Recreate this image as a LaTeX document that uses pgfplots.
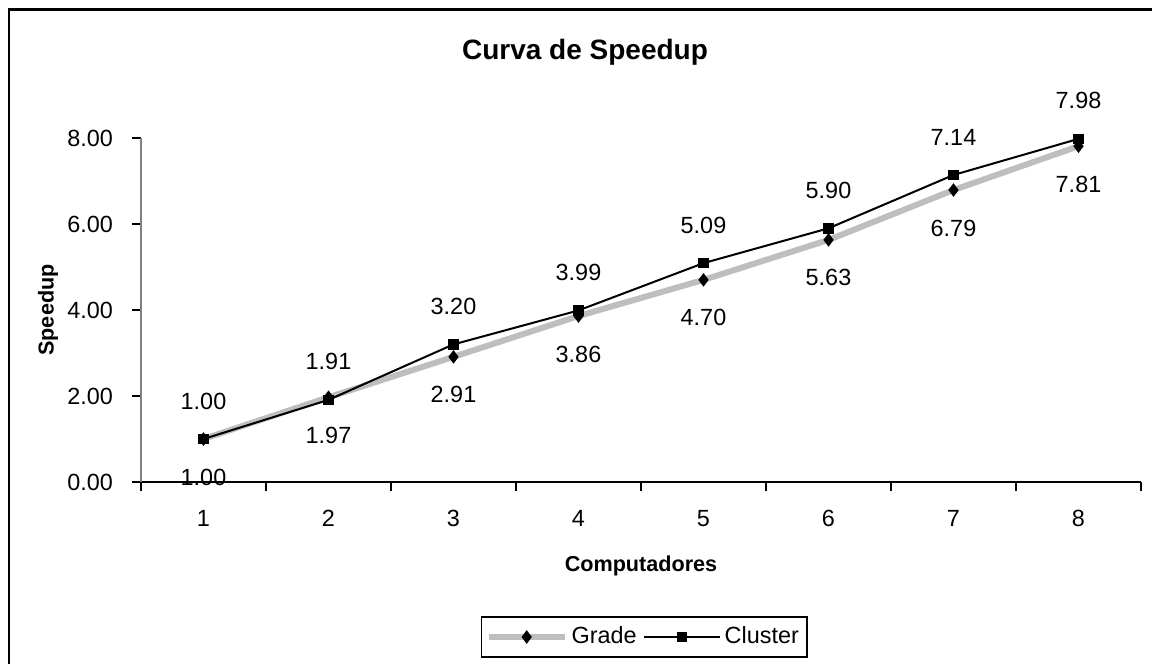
\documentclass[border=0pt]{standalone}
\usepackage{fontspec}
\setmainfont{Liberation Sans}
\usepackage{pgfplots}
\pgfplotsset{compat=1.18}
\definecolor{gradegray}{RGB}{190,190,190}

\begin{document}
\begin{tikzpicture}
\useasboundingbox (-70.5pt,-91pt) rectangle (505.5pt,241pt);
% frame of the chart area (only left and top edges are in view)
\draw[line width=1.25pt] (-66pt,-91pt) -- (-66pt,236.25pt) -- (505.5pt,236.25pt);
\begin{axis}[
  at={(0,0)}, anchor=south west,
  scale only axis,
  width=500pt, height=172pt,
  xmin=0.5, xmax=8.5,
  ymin=0, ymax=8,
  axis lines*=left,
  x axis line style={black, line width=0.6pt},
  y axis line style={gray, line width=0.6pt},
  tick align=outside,
  major tick length=4.5pt,
  tick style={black, line width=0.6pt},
  xtick={0.5,1.5,...,8.5},
  xticklabels={},
  extra x ticks={1,2,...,8},
  extra x tick labels={1,2,3,4,5,6,7,8},
  extra x tick style={major tick length=0pt},
  ytick={0,2,4,6,8},
  /pgf/number format/assume math mode=true,
  yticklabel style={xshift=-6pt, /pgf/number format/fixed, /pgf/number format/fixed zerofill, /pgf/number format/precision=2},
  ticklabel style={font=\fontsize{11.7}{14}\selectfont},
  xticklabel style={yshift=-10.5pt},
  every axis title shift=0pt,
  title={\bfseries Curva de Speedup},
  title style={at={(axis description cs:0.444,1.25)}, anchor=center, font=\fontsize{14}{17}\selectfont},
  xlabel={\bfseries Computadores},
  xlabel style={at={(axis description cs:0.5,-0.244)}, anchor=center, font=\fontsize{10.8}{13}\selectfont},
  ylabel={\bfseries Speedup},
  ylabel style={at={(axis description cs:-0.093,0.5)}, anchor=center, font=\fontsize{10.8}{13}\selectfont},
  nodes near coords,
  nodes near coords style={font=\fontsize{11.7}{14}\selectfont, black,
    /pgf/number format/fixed, /pgf/number format/fixed zerofill, /pgf/number format/precision=2},
  legend columns=2,
  legend style={at={(axis description cs:0.34,-0.4506)}, anchor=west,
    draw=black, line width=0.7pt, font=\fontsize{11.7}{14}\selectfont,
    inner xsep=2pt, inner ysep=3pt,
    /tikz/every even column/.append style={column sep=1pt}},
  legend image code/.code={
    \draw[mark repeat=2, mark phase=2, #1] plot coordinates {(0pt,0pt) (19pt,0pt) (38pt,0pt)};
  },
]
\addplot[gradegray, line width=3pt, mark=diamond*, mark size=3pt,
  mark options={black, fill=black, line width=0.5pt},
  every node near coord/.append style={anchor=center, yshift=-19pt}]
  coordinates {(1,1.00)(2,1.97)(3,2.91)(4,3.86)(5,4.70)(6,5.63)(7,6.79)(8,7.81)};
\addlegendentry{Grade}

\addplot[black, line width=1pt, mark=square*, mark size=2.1pt,
  mark options={black, fill=black},
  every node near coord/.append style={anchor=center, yshift=19pt}]
  coordinates {(1,1.00)(2,1.91)(3,3.20)(4,3.99)(5,5.09)(6,5.90)(7,7.14)(8,7.98)};
\addlegendentry{Cluster}
\end{axis}
\end{tikzpicture}
\end{document}
